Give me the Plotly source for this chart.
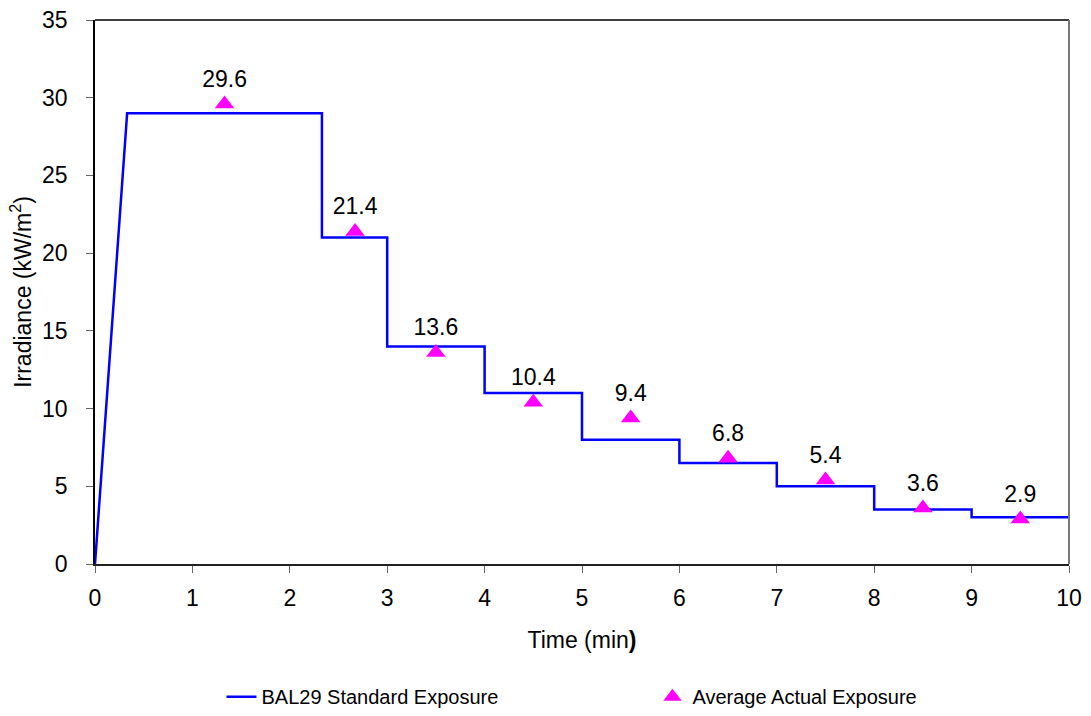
import plotly.graph_objects as go

# Standard exposure step profile
std_time = [0, 0.33, 2.33, 2.33, 3, 3, 4, 4, 5, 5, 6, 6, 7, 7, 8, 8, 9, 9, 10]
std_irr = [0, 29, 29, 21, 21, 14, 14, 11, 11, 8, 8, 6.5, 6.5, 5, 5, 3.5, 3.5, 3, 3]

# Average actual exposure
act_time = [1.33, 2.67, 3.5, 4.5, 5.5, 6.5, 7.5, 8.5, 9.5]
act_irr = [29.6, 21.4, 13.6, 10.4, 9.4, 6.8, 5.4, 3.6, 2.9]
act_labels = ["29.6", "21.4", "13.6", "10.4", "9.4", "6.8", "5.4", "3.6", "2.9"]

x_ticks = list(range(0, 11))
y_ticks = list(range(0, 36, 5))

FONT = "Liberation Sans, Arial, sans-serif"

fig = go.Figure()
fig.add_trace(go.Scatter(
    x=std_time, y=std_irr, mode="lines",
    line=dict(color="#0000FF", width=2.5),
    name="BAL29 Standard Exposure",
))
fig.add_trace(go.Scatter(
    x=act_time, y=act_irr, mode="markers+text",
    marker=dict(symbol="triangle-up", color="#FF00FF", size=17),
    text=act_labels, textposition="top center",
    textfont=dict(size=23, color="black", family=FONT),
    name="Average Actual Exposure",
))

fig.update_layout(
    width=1091, height=716,
    margin=dict(l=95, r=22, t=20, b=152, autoexpand=False),
    paper_bgcolor="white", plot_bgcolor="white",
    font=dict(family=FONT, size=23, color="black"),
    showlegend=True,
    legend=dict(
        orientation="h", xref="container", yref="container",
        x=0.203, xanchor="left", y=0.027, yanchor="middle",
        font=dict(size=20, family=FONT), entrywidth=386,
    ),
    xaxis=dict(
        range=[0, 10], tickvals=x_ticks, showgrid=False, zeroline=False,
        showline=True, linecolor="#222222", linewidth=1.5,
        ticks="outside", ticklen=7, tickcolor="#666666", ticklabelstandoff=6,
        title=dict(text="Time (min<b>)</b>", font=dict(size=23), standoff=22),
    ),
    yaxis=dict(
        range=[0, 35], tickvals=y_ticks, showgrid=False, zeroline=False,
        showline=True, linecolor="black", linewidth=1.5,
        ticks="outside", ticklen=7, tickcolor="#666666", ticklabelstandoff=14,
        title=dict(text="Irradiance (kW/m<sup>2</sup>)", font=dict(size=23), standoff=4),
    ),
    shapes=[
        dict(type="line", xref="paper", yref="paper", x0=0, x1=1, y0=1, y1=1,
             line=dict(color="black", width=1.5)),
        dict(type="line", xref="paper", yref="paper", x0=1, x1=1, y0=0, y1=1,
             line=dict(color="#777777", width=2)),
    ],
)

fig.write_html("out.html", config={"displayModeBar": False},
               post_script="document.body.style.margin='0';")
